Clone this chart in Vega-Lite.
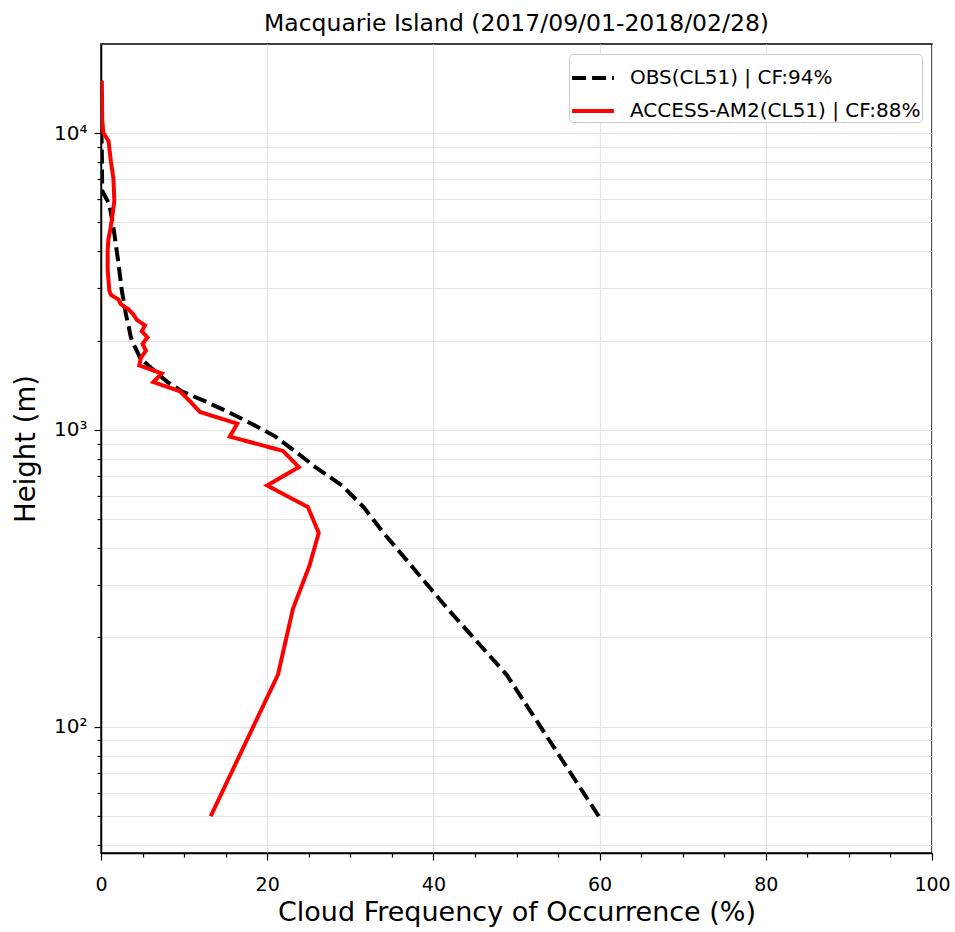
{
  "$schema": "https://vega.github.io/schema/vega-lite/v6.json",
  "width": 831,
  "height": 809,
  "autosize": "none",
  "padding": {"left": 101, "top": 44, "right": 23, "bottom": 79},
  "background": "white",
  "config": {
    "font": "DejaVu Sans",
    "view": {"stroke": "black", "strokeWidth": 1.5},
    "axis": {"labelFont": "DejaVu Sans", "titleFont": "DejaVu Sans", "labelColor": "black", "titleColor": "black", "tickColor": "black", "domainColor": "black", "domainWidth": 1.5, "gridColor": "#e4e4e4", "gridWidth": 1.2}
  },
  "title": {"text": "Macquarie Island (2017/09/01-2018/02/28)", "fontSize": 23.5, "fontWeight": "normal", "font": "DejaVu Sans", "offset": 9, "color": "black"},
  "data": {"values": [
    {"s": "OBS(CL51) | CF:94%", "h": 50, "v": 59.9},
    {"s": "OBS(CL51) | CF:94%", "h": 150, "v": 48.8},
    {"s": "OBS(CL51) | CF:94%", "h": 250, "v": 41.7},
    {"s": "OBS(CL51) | CF:94%", "h": 350, "v": 37.3},
    {"s": "OBS(CL51) | CF:94%", "h": 450, "v": 34.0},
    {"s": "OBS(CL51) | CF:94%", "h": 550, "v": 31.6},
    {"s": "OBS(CL51) | CF:94%", "h": 650, "v": 29.0},
    {"s": "OBS(CL51) | CF:94%", "h": 750, "v": 25.8},
    {"s": "OBS(CL51) | CF:94%", "h": 850, "v": 23.3},
    {"s": "OBS(CL51) | CF:94%", "h": 950, "v": 21.0},
    {"s": "OBS(CL51) | CF:94%", "h": 1050, "v": 18.1},
    {"s": "OBS(CL51) | CF:94%", "h": 1150, "v": 15.3},
    {"s": "OBS(CL51) | CF:94%", "h": 1250, "v": 12.5},
    {"s": "OBS(CL51) | CF:94%", "h": 1350, "v": 9.7},
    {"s": "OBS(CL51) | CF:94%", "h": 1450, "v": 8.0},
    {"s": "OBS(CL51) | CF:94%", "h": 1550, "v": 6.8},
    {"s": "OBS(CL51) | CF:94%", "h": 1650, "v": 5.7},
    {"s": "OBS(CL51) | CF:94%", "h": 1750, "v": 4.7},
    {"s": "OBS(CL51) | CF:94%", "h": 1850, "v": 4.3},
    {"s": "OBS(CL51) | CF:94%", "h": 1950, "v": 3.9},
    {"s": "OBS(CL51) | CF:94%", "h": 2050, "v": 3.6},
    {"s": "OBS(CL51) | CF:94%", "h": 2250, "v": 3.3},
    {"s": "OBS(CL51) | CF:94%", "h": 2450, "v": 3.0},
    {"s": "OBS(CL51) | CF:94%", "h": 2750, "v": 2.7},
    {"s": "OBS(CL51) | CF:94%", "h": 2950, "v": 2.5},
    {"s": "OBS(CL51) | CF:94%", "h": 3650, "v": 2.1},
    {"s": "OBS(CL51) | CF:94%", "h": 4800, "v": 1.5},
    {"s": "OBS(CL51) | CF:94%", "h": 5760, "v": 1.0},
    {"s": "OBS(CL51) | CF:94%", "h": 6380, "v": 0.15},
    {"s": "OBS(CL51) | CF:94%", "h": 8700, "v": 0.1},
    {"s": "OBS(CL51) | CF:94%", "h": 10000, "v": 0.05},
    {"s": "OBS(CL51) | CF:94%", "h": 15000, "v": 0.0},
    {"s": "ACCESS-AM2(CL51) | CF:88%", "h": 50, "v": 13.2},
    {"s": "ACCESS-AM2(CL51) | CF:88%", "h": 150, "v": 21.3},
    {"s": "ACCESS-AM2(CL51) | CF:88%", "h": 250, "v": 23.1},
    {"s": "ACCESS-AM2(CL51) | CF:88%", "h": 350, "v": 25.1},
    {"s": "ACCESS-AM2(CL51) | CF:88%", "h": 450, "v": 26.2},
    {"s": "ACCESS-AM2(CL51) | CF:88%", "h": 550, "v": 24.9},
    {"s": "ACCESS-AM2(CL51) | CF:88%", "h": 650, "v": 20.0},
    {"s": "ACCESS-AM2(CL51) | CF:88%", "h": 750, "v": 23.8},
    {"s": "ACCESS-AM2(CL51) | CF:88%", "h": 850, "v": 21.9},
    {"s": "ACCESS-AM2(CL51) | CF:88%", "h": 950, "v": 15.5},
    {"s": "ACCESS-AM2(CL51) | CF:88%", "h": 1050, "v": 16.4},
    {"s": "ACCESS-AM2(CL51) | CF:88%", "h": 1150, "v": 11.9},
    {"s": "ACCESS-AM2(CL51) | CF:88%", "h": 1250, "v": 10.7},
    {"s": "ACCESS-AM2(CL51) | CF:88%", "h": 1350, "v": 9.5},
    {"s": "ACCESS-AM2(CL51) | CF:88%", "h": 1450, "v": 6.3},
    {"s": "ACCESS-AM2(CL51) | CF:88%", "h": 1550, "v": 7.3},
    {"s": "ACCESS-AM2(CL51) | CF:88%", "h": 1650, "v": 4.6},
    {"s": "ACCESS-AM2(CL51) | CF:88%", "h": 1750, "v": 4.8},
    {"s": "ACCESS-AM2(CL51) | CF:88%", "h": 1850, "v": 5.4},
    {"s": "ACCESS-AM2(CL51) | CF:88%", "h": 1950, "v": 5.0},
    {"s": "ACCESS-AM2(CL51) | CF:88%", "h": 2050, "v": 5.6},
    {"s": "ACCESS-AM2(CL51) | CF:88%", "h": 2150, "v": 4.9},
    {"s": "ACCESS-AM2(CL51) | CF:88%", "h": 2250, "v": 5.3},
    {"s": "ACCESS-AM2(CL51) | CF:88%", "h": 2350, "v": 4.3},
    {"s": "ACCESS-AM2(CL51) | CF:88%", "h": 2450, "v": 3.9},
    {"s": "ACCESS-AM2(CL51) | CF:88%", "h": 2550, "v": 3.3},
    {"s": "ACCESS-AM2(CL51) | CF:88%", "h": 2650, "v": 2.4},
    {"s": "ACCESS-AM2(CL51) | CF:88%", "h": 2750, "v": 2.1},
    {"s": "ACCESS-AM2(CL51) | CF:88%", "h": 2850, "v": 1.2},
    {"s": "ACCESS-AM2(CL51) | CF:88%", "h": 2950, "v": 1.0},
    {"s": "ACCESS-AM2(CL51) | CF:88%", "h": 3450, "v": 0.8},
    {"s": "ACCESS-AM2(CL51) | CF:88%", "h": 4050, "v": 0.8},
    {"s": "ACCESS-AM2(CL51) | CF:88%", "h": 4400, "v": 0.9},
    {"s": "ACCESS-AM2(CL51) | CF:88%", "h": 4700, "v": 1.1},
    {"s": "ACCESS-AM2(CL51) | CF:88%", "h": 5100, "v": 1.3},
    {"s": "ACCESS-AM2(CL51) | CF:88%", "h": 5900, "v": 1.6},
    {"s": "ACCESS-AM2(CL51) | CF:88%", "h": 7000, "v": 1.5},
    {"s": "ACCESS-AM2(CL51) | CF:88%", "h": 8000, "v": 1.2},
    {"s": "ACCESS-AM2(CL51) | CF:88%", "h": 9400, "v": 0.9},
    {"s": "ACCESS-AM2(CL51) | CF:88%", "h": 10000, "v": 0.3},
    {"s": "ACCESS-AM2(CL51) | CF:88%", "h": 11000, "v": 0.15},
    {"s": "ACCESS-AM2(CL51) | CF:88%", "h": 15000, "v": 0.1}
  ]},
  "mark": {"type": "line", "strokeWidth": 4, "clip": true},
  "encoding": {
    "x": {
      "field": "v", "type": "quantitative",
      "scale": {"domain": [0, 100], "nice": false, "zero": false},
      "axis": {
        "title": "Cloud Frequency of Occurrence (%)", "titleFontSize": 27, "titleFontWeight": "normal", "titlePadding": 5,
        "values": [0,5,10,15,20,25,30,35,40,45,50,55,60,65,70,75,80,85,90,95,100],
        "labelExpr": "datum.value % 20 === 0 ? datum.label : ''",
        "labelFontSize": 19, "labelOverlap": false, "labelPadding": 15, "labelFlush": false,
        "tickSize": {"condition": {"test": "datum.value % 20 === 0", "value": 7}, "value": 4},
        "tickWidth": 1.2,
        "gridOpacity": {"condition": {"test": "datum.value % 20 === 0", "value": 1}, "value": 0}
      }
    },
    "y": {
      "field": "h", "type": "quantitative",
      "scale": {"type": "log", "domain": [37.6, 19950], "nice": false, "zero": false},
      "axis": {
        "title": "Height (m)", "titleFontSize": 27.5, "titleFontWeight": "normal", "titlePadding": 13,
        "values": [40,50,60,70,80,90,100,200,300,400,500,600,700,800,900,1000,2000,3000,4000,5000,6000,7000,8000,9000,10000],
        "labelExpr": "datum.value == 100 ? '10²' : datum.value == 1000 ? '10³' : datum.value == 10000 ? '10⁴' : ''",
        "labelFontSize": 20, "labelOverlap": false, "labelPadding": 7,
        "tickSize": {"condition": {"test": "datum.value == 100 || datum.value == 1000 || datum.value == 10000", "value": 7}, "value": 4},
        "tickWidth": 1.2
      }
    },
    "color": {
      "field": "s", "type": "nominal",
      "scale": {"domain": ["OBS(CL51) | CF:94%", "ACCESS-AM2(CL51) | CF:88%"], "range": ["black", "#ff0000"]},
      "legend": {
        "title": null, "orient": "top-right", "offset": 10,
        "labelFontSize": 20, "labelFont": "DejaVu Sans", "labelColor": "black", "labelLimit": 500,
        "symbolType": "stroke", "symbolSize": 1750, "symbolStrokeWidth": 4,
        "strokeColor": "#cccccc", "fillColor": "white", "cornerRadius": 4, "padding": 1,
        "rowPadding": -7, "labelOffset": 14
      }
    },
    "strokeDash": {
      "field": "s", "type": "nominal",
      "scale": {"domain": ["OBS(CL51) | CF:94%", "ACCESS-AM2(CL51) | CF:88%"], "range": [[14, 6], [1, 0]]},
      "legend": null
    },
    "order": {"field": "h", "type": "quantitative"}
  }
}
